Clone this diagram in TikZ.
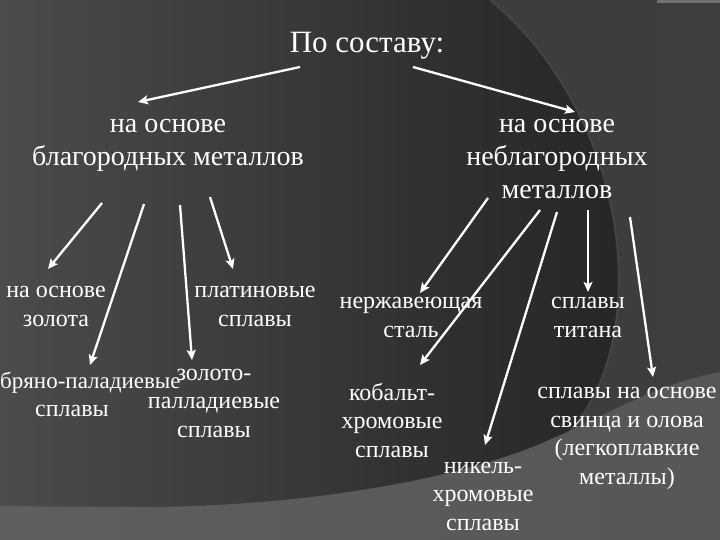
\documentclass[tikz,border=0pt]{standalone}
\usepackage{fontspec}
\setmainfont{Liberation Serif}
\usetikzlibrary{arrows.meta, positioning}

\definecolor{bgl}{RGB}{102,102,102}
\definecolor{bga}{RGB}{90,90,90}
\definecolor{bgb}{RGB}{72,72,72}
\definecolor{bgm}{RGB}{60,60,60}
\definecolor{bgr}{RGB}{63,63,63}
\definecolor{dka}{RGB}{48,48,48}
\definecolor{dkb}{RGB}{37,37,37}
\definecolor{dkc}{RGB}{29,29,29}
\definecolor{rim}{RGB}{80,80,80}
\definecolor{bandl}{RGB}{95,95,95}
\definecolor{bandr}{RGB}{86,86,86}
\definecolor{strip}{RGB}{112,112,112}

\pgfdeclarehorizontalshading{slidebg}{100bp}{color(0bp)=(bgl); color(14bp)=(bga);
    color(28bp)=(bgb); color(42bp)=(bgm); color(100bp)=(bgr)}
\pgfdeclarehorizontalshading{slideswoosh}{100bp}{color(0bp)=(bgl); color(14bp)=(bga);
    color(28bp)=(bgb); color(42bp)=(bgm); color(55bp)=(dka); color(70bp)=(dkb);
    color(84bp)=(dkc); color(100bp)=(dkc)}

\newcommand\headfont{\fontsize{31}{37}\selectfont}
\newcommand\midfont{\fontsize{28}{33}\selectfont}
\newcommand\leaffont{\fontsize{24}{28.5}\selectfont}

\begin{document}
\begin{tikzpicture}[x=1pt, y=-1pt,
    every node/.style={text=white, inner sep=0pt, align=center, anchor=base},
    headtxt/.style={font=\headfont},
    midtxt/.style={font=\midfont},
    leaftxt/.style={font=\leaffont},
    arr/.style={draw=white, line width=2.3pt, -{Stealth[length=10pt, width=9pt, inset=2pt]}}]
    \useasboundingbox (0,0) rectangle (720,540);
    % background of the slide
    \shade[shading=slidebg] (0,0) rectangle (720,540);
    \begin{scope}
        \clip (250,0) -- (490,0) .. controls (575,70) and (625,190) .. (618,300)
            .. controls (613,370) and (590,420) .. (540,460) -- (250,520) -- cycle;
        \shade[shading=slideswoosh] (0,0) rectangle (720,540);
    \end{scope}
    \draw[rim, line width=1.5pt, opacity=0.7] (490,0) .. controls (575,70) and (625,190) .. (618,300)
        .. controls (613,370) and (590,420) .. (540,460);
    \shade[left color=bandl, right color=bandr] (0,506) -- (130,507) .. controls (260,508) and (420,490) .. (530,448)
        .. controls (600,420) and (650,385) .. (720,372) -- (720,540) -- (0,540) -- cycle;
    \fill[strip] (657,0) rectangle (720,3);

    % texts, placed at the baseline of their last line
    \node[headtxt] (title) at (367,53) {По составу:};
    \node[midtxt] (noble) at (168,166) {на основе\\благородных металлов};
    \node[midtxt] (base) at (557,199) {на основе\\неблагородных\\металлов};

    \node[leaftxt] (gold) at (56,326) {на основе\\золота};
    \node[leaftxt] (plat) at (255,326) {платиновые\\сплавы};
    \node[leaftxt, anchor=base west, font=\fontsize{23}{28}\selectfont] (silver) at (0,388) {бряно-паладиевые};
    \node[leaftxt] (silverb) at (72,416) {сплавы};
    \node[leaftxt] (goldpal) at (214,437) {золото-\\палладиевые\\сплавы};

    \node[leaftxt] (steel) at (411,337) {нержавеющая\\сталь};
    \node[leaftxt] (titan) at (588,337) {сплавы\\титана};
    \node[leaftxt] (cobalt) at (392,457) {кобальт-\\хромовые\\сплавы};
    \node[leaftxt] (nickel) at (483,530) {никель-\\хромовые\\сплавы};
    \node[leaftxt] (lead) at (627,484) {сплавы на основе\\свинца и олова\\(легкоплавкие\\металлы)};

    % arrow ends
    \coordinate (tl) at (300,67);
    \coordinate (tr) at (413,67);
    \coordinate (noblein) at (138,102);
    \coordinate (basein) at (575,112);
    \coordinate (nga) at (102,203);
    \coordinate (ngb) at (144,204);
    \coordinate (ngc) at (180,205);
    \coordinate (ngd) at (210,197);
    \coordinate (goldin) at (48,269);
    \coordinate (silverin) at (90,365);
    \coordinate (goldpalin) at (192,360);
    \coordinate (platin) at (233,269);
    \coordinate (bsa) at (488,198);
    \coordinate (bsb) at (540,210);
    \coordinate (bsc) at (557,212);
    \coordinate (bsd) at (588,210);
    \coordinate (bse) at (630,217);
    \coordinate (steelin) at (420,293);
    \coordinate (cobaltin) at (420,365);
    \coordinate (nickelin) at (485,445);
    \coordinate (titanin) at (588,292);
    \coordinate (leadin) at (653,377);

    \draw[arr] (tl) -- (noblein);
    \draw[arr] (tr) -- (basein);
    \draw[arr] (nga) -- (goldin);
    \draw[arr] (ngb) -- (silverin);
    \draw[arr] (ngc) -- (goldpalin);
    \draw[arr] (ngd) -- (platin);
    \draw[arr] (bsa) -- (steelin);
    \draw[arr] (bsb) -- (cobaltin);
    \draw[arr] (bsc) -- (nickelin);
    \draw[arr] (bsd) -- (titanin);
    \draw[arr] (bse) -- (leadin);
\end{tikzpicture}
\end{document}
